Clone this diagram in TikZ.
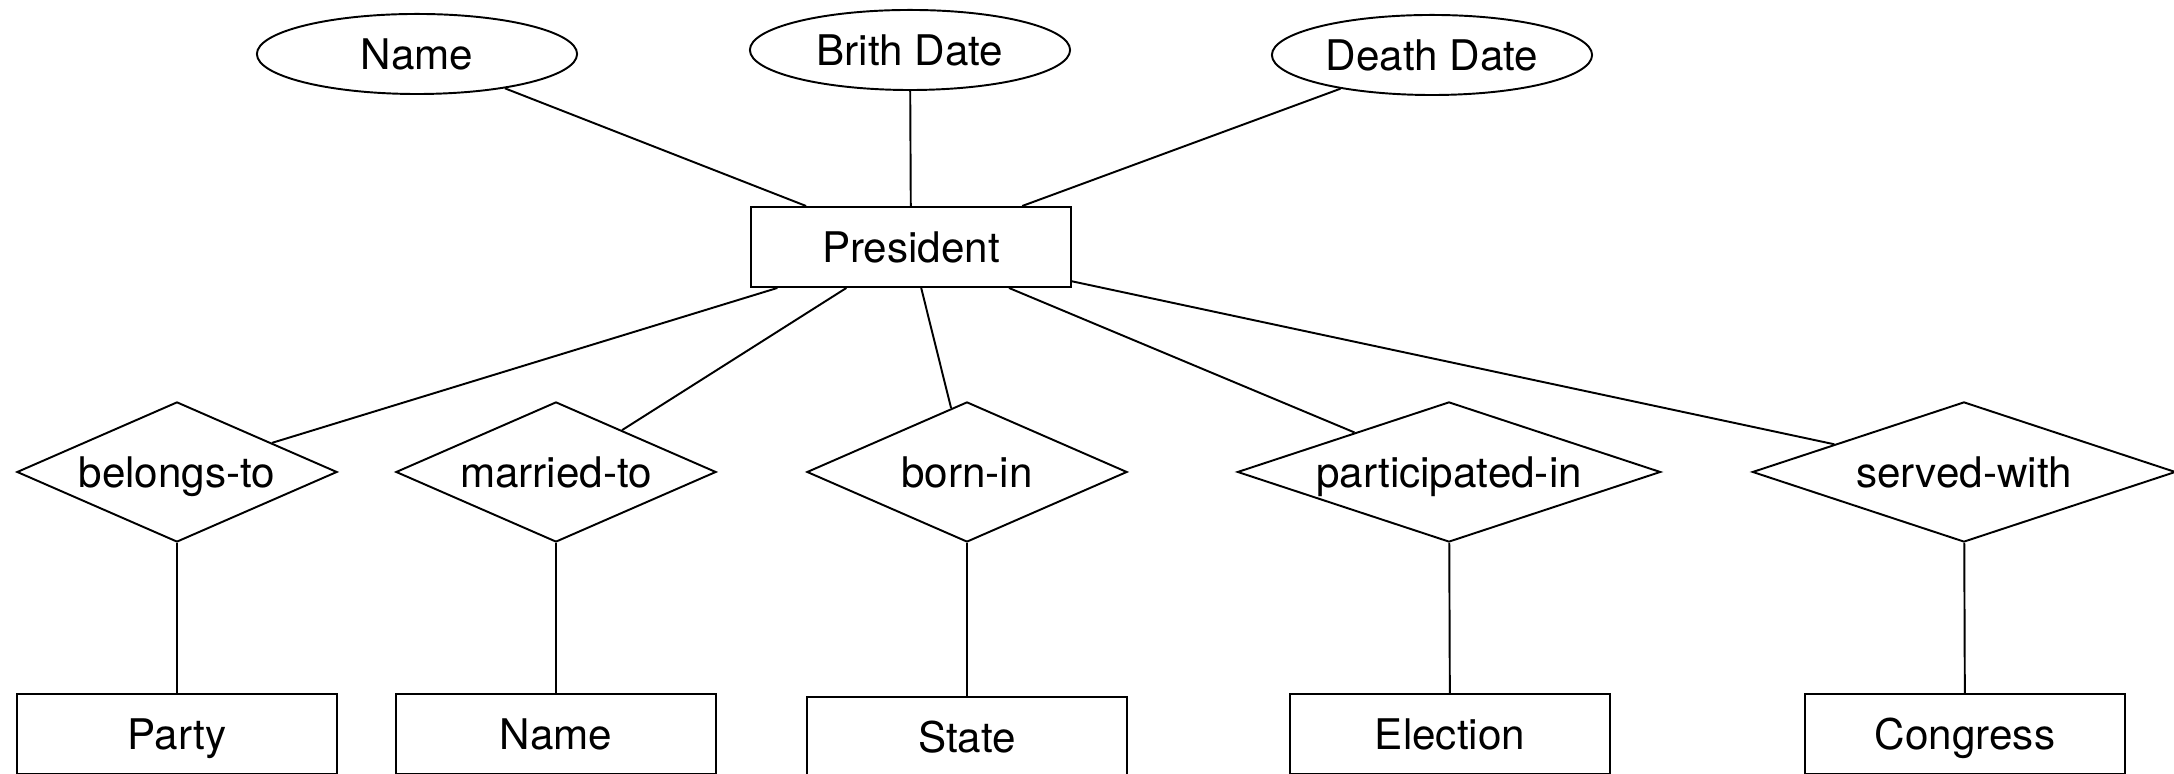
\documentclass[tikz,border=0pt]{standalone}
\usepackage{fontspec}
\setmainfont{TeX Gyre Heros}
\usetikzlibrary{shapes.geometric}
\begin{document}
\begin{tikzpicture}[x=0.01cm,y=-0.01cm,line width=.55pt,
    every node/.style={font=\fontsize{12}{14}\selectfont,text height=8.6pt,text depth=0pt},
    entity/.style={draw,rectangle,minimum width=3.2cm,minimum height=.8cm,inner sep=0pt},
    attrib/.style={draw,ellipse,minimum width=3.2cm,minimum height=.8cm,inner sep=0pt},
    relation/.style={draw,diamond,minimum height=1.4cm,inner sep=0pt}]
    \useasboundingbox (0,0) rectangle (2174,774);
    % attributes
    \node[attrib] (aname) at (417,54) {Name};
    \node[attrib] (abirth) at (910,50) {Brith Date};
    \node[attrib] (adeath) at (1432,55) {Death Date};
    % entity
    \node[entity] (pres) at (911,247) {President};
    \foreach \a in {aname,abirth,adeath}
        \draw (\a) -- (pres);
    % relations and entities
    \foreach \n/\x/\w/\asp/\ex/\ey/\rtext/\etext in {bel/177/3.2/2.3/177/734/belongs-to/Party,
        mar/556/3.2/2.3/556/734/married-to/Name,
        bor/967/3.2/2.3/967/737/born-in/State,
        par/1449/4.23/3.0/1450/734/participated-in/Election,
        ser/1964/4.23/3.0/1965/734/served-with/Congress}
    {
        \node[relation,aspect=\asp,minimum width=\w cm] (r\n) at (\x,472) {\rtext};
        \node[entity] (e\n) at (\ex,\ey) {\etext};
        \draw (pres) -- (r\n);
        \draw (r\n) -- (e\n);
    }
\end{tikzpicture}
\end{document}
